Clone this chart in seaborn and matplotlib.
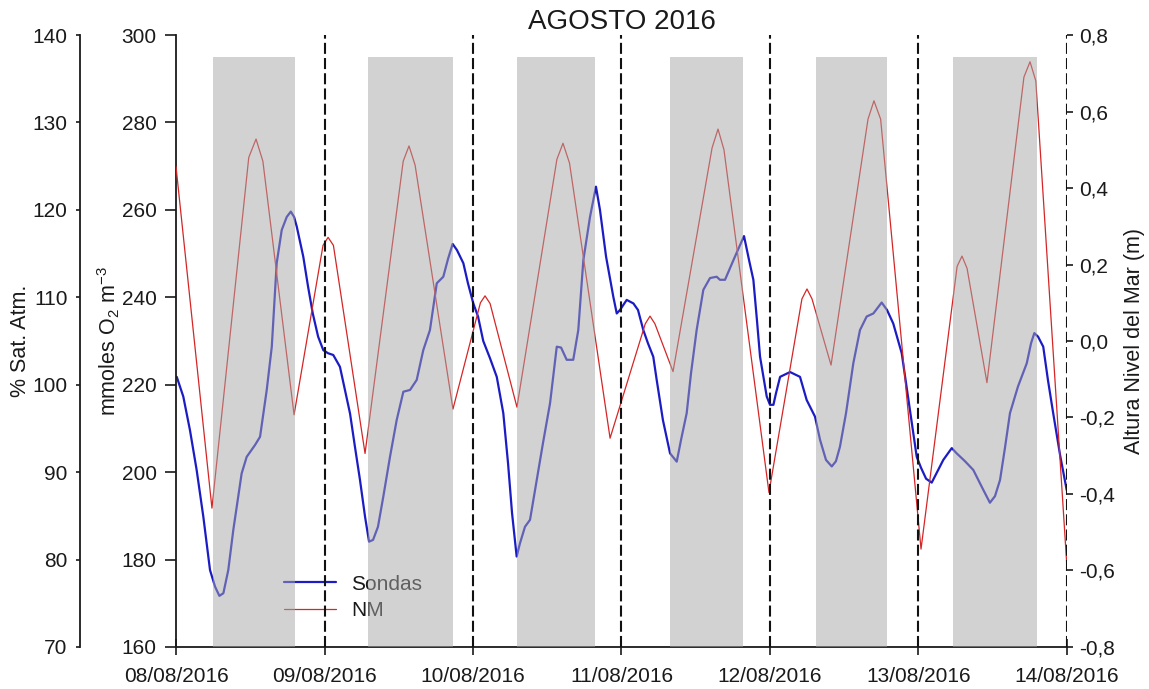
import matplotlib
matplotlib.use("Agg")
import matplotlib.pyplot as plt
import seaborn as sns

# Time axis: days elapsed since 08/08/2016 00:00
day_ticks = [0, 1, 2, 3, 4, 5, 6]
day_labels = ["08/08/2016", "09/08/2016", "10/08/2016", "11/08/2016",
              "12/08/2016", "13/08/2016", "14/08/2016"]

# Dissolved oxygen from the probes (mmoles O2 m-3)
sondas_t = [0.005, 0.049, 0.094, 0.139, 0.184, 0.229, 0.263, 0.292, 0.319, 0.352,
            0.386, 0.442, 0.476, 0.532, 0.566, 0.611, 0.645, 0.678, 0.712, 0.746,
            0.773, 0.795, 0.813, 0.857, 0.889, 0.921, 0.957, 0.992, 1.024, 1.059,
            1.104, 1.138, 1.172, 1.205, 1.239, 1.273, 1.300, 1.327, 1.360, 1.396,
            1.441, 1.486, 1.531, 1.576, 1.621, 1.665, 1.710, 1.756, 1.800, 1.832,
            1.863, 1.892, 1.935, 1.966, 2.002, 2.034, 2.069, 2.114, 2.160, 2.204,
            2.236, 2.263, 2.294, 2.316, 2.350, 2.384, 2.429, 2.471, 2.519, 2.564,
            2.593, 2.631, 2.675, 2.709, 2.743, 2.788, 2.828, 2.855, 2.896, 2.945,
            2.968, 2.990, 3.035, 3.080, 3.111, 3.147, 3.178, 3.214, 3.237, 3.279,
            3.327, 3.372, 3.401, 3.439, 3.468, 3.506, 3.551, 3.596, 3.641, 3.663,
            3.697, 3.764, 3.825, 3.859, 3.888, 3.912, 3.933, 3.978, 4.000, 4.023,
            4.040, 4.068, 4.135, 4.202, 4.247, 4.303, 4.337, 4.377, 4.416, 4.444,
            4.471, 4.512, 4.561, 4.606, 4.651, 4.696, 4.752, 4.788, 4.830, 4.887,
            4.943, 4.988, 5.017, 5.051, 5.089, 5.125, 5.167, 5.224, 5.257, 5.313,
            5.369, 5.437, 5.481, 5.515, 5.549, 5.582, 5.616, 5.670, 5.729, 5.758,
            5.780, 5.805, 5.840, 5.872, 5.907, 5.953, 5.998]
sondas_o2 = [221.8, 217.3, 209.6, 200.5, 189.8, 177.6, 173.8, 171.7, 172.3, 177.6,
             186.8, 199.7, 203.5, 206.2, 208.1, 218.8, 228.7, 247.8, 255.4, 258.4,
             259.6, 258.4, 256.2, 249.3, 242.5, 236.3, 231.0, 227.9, 227.2, 226.8,
             224.1, 218.8, 213.4, 205.8, 198.2, 189.8, 184.1, 184.5, 187.5, 194.4,
             203.5, 211.9, 218.4, 218.8, 221.1, 227.9, 232.5, 243.2, 244.7, 248.8,
             252.2, 250.8, 247.8, 243.2, 238.6, 235.6, 230.0, 226.1, 221.8, 213.5,
             202.0, 190.6, 180.7, 183.7, 187.5, 189.1, 198.2, 206.6, 215.8, 228.7,
             228.5, 225.7, 225.7, 232.5, 248.5, 258.4, 265.3, 260.0, 249.3, 240.1,
             236.3, 237.1, 239.4, 238.6, 237.1, 232.5, 229.5, 226.4, 221.1, 211.9,
             204.3, 202.4, 207.4, 213.5, 222.6, 232.5, 241.7, 244.4, 244.7, 244.0,
             244.0, 249.3, 254.0, 248.5, 244.0, 234.8, 226.4, 217.3, 215.4, 215.4,
             218.0, 221.8, 222.9, 221.8, 216.5, 212.7, 207.4, 202.8, 201.3, 202.5,
             205.8, 213.5, 224.9, 232.5, 235.6, 236.3, 238.8, 237.1, 234.0, 227.2,
             214.0, 203.5, 201.0, 198.5, 197.6, 200.0, 202.8, 205.5, 204.3, 202.5,
             200.5, 195.9, 193.0, 194.5, 198.2, 205.5, 213.5, 219.6, 224.9, 229.5,
             231.8, 231.0, 228.7, 221.0, 213.5, 204.0, 195.9]

# Sea level height (m)
nm_t = [0.000, 0.242, 0.490, 0.539, 0.585, 0.795, 0.990, 1.024, 1.060, 1.273,
        1.530, 1.569, 1.610, 1.865, 2.050, 2.081, 2.115, 2.296, 2.565, 2.606,
        2.650, 2.923, 3.160, 3.192, 3.225, 3.347, 3.610, 3.650, 3.690, 3.993,
        4.215, 4.249, 4.283, 4.411, 4.660, 4.700, 4.745, 5.017, 5.260, 5.293,
        5.327, 5.461, 5.710, 5.751, 5.790, 6.000]
nm_h = [0.456, -0.437, 0.480, 0.528, 0.470, -0.193, 0.250, 0.271, 0.250, -0.294,
        0.470, 0.510, 0.460, -0.178, 0.100, 0.118, 0.098, -0.173, 0.475, 0.517,
        0.465, -0.254, 0.045, 0.065, 0.045, -0.080, 0.505, 0.554, 0.500, -0.396,
        0.110, 0.136, 0.110, -0.063, 0.580, 0.628, 0.580, -0.544, 0.195, 0.222,
        0.190, -0.109, 0.690, 0.730, 0.680, -0.593]

# Shaded periods (days)
light_start = [0.247, 1.295, 2.294, 3.327, 4.310, 5.234]
light_end = [0.800, 1.867, 2.822, 3.816, 4.790, 5.796]

o2_ticks = [160, 180, 200, 220, 240, 260, 280, 300]
sat_ticks = [70, 80, 90, 100, 110, 120, 130, 140]
nm_ticks = [-0.8, -0.6, -0.4, -0.2, 0.0, 0.2, 0.4, 0.6, 0.8]
nm_tick_labels = ["-0,8", "-0,6", "-0,4", "-0,2", "0,0", "0,2", "0,4", "0,6", "0,8"]

sns.set_style("ticks")
plt.rcParams["font.family"] = ["Liberation Sans", "DejaVu Sans"]
plt.rcParams["mathtext.fontset"] = "custom"
plt.rcParams["mathtext.rm"] = "Liberation Sans"
plt.rcParams["mathtext.it"] = "Liberation Sans:italic"
plt.rcParams["mathtext.bf"] = "Liberation Sans:bold"

FS = 15
LFS = 15.5
TXT = "#1a1a1a"

fig = plt.figure(figsize=(11.49, 6.89), dpi=100)
ax = fig.add_axes([0.15318, 0.06096, 0.77545, 0.88824])

sns.lineplot(x=sondas_t, y=sondas_o2, ax=ax, color="#1c1cc4", linewidth=1.6,
             estimator=None, sort=False, zorder=2)
ax.set_xlim(0, 6)
ax.set_ylim(160, 300)
ax.set_yticks(o2_ticks)
ax.set_xticks(day_ticks)
ax.set_xticklabels(day_labels)
ax.set_ylabel(r"mmoles O$_2$ m$^{-3}$", fontsize=LFS, color=TXT, labelpad=-0.5)
ax.set_xlabel("")
ax.tick_params(axis="y", direction="out", length=8, width=1.2, pad=6,
               labelsize=FS, colors=TXT)
ax.tick_params(axis="x", direction="inout", length=11, width=1.2, pad=9,
               labelsize=FS, colors=TXT)
for s in ("top", "right"):
    ax.spines[s].set_visible(False)
for s in ("left", "bottom"):
    ax.spines[s].set_linewidth(1.3)
    ax.spines[s].set_color(TXT)
ax.set_title("AGOSTO 2016", fontsize=20, color=TXT, pad=3)

# Sea level on the right axis
ax2 = ax.twinx()
sns.lineplot(x=nm_t, y=nm_h, ax=ax2, color="#d42626", linewidth=0.9,
             estimator=None, sort=False, zorder=2)
ax2.set_ylim(-0.8, 0.8)
ax2.set_yticks(nm_ticks)
ax2.set_yticklabels(nm_tick_labels)
ax2.set_ylabel("Altura Nivel del Mar (m)", fontsize=LFS, color=TXT, labelpad=7)
ax2.tick_params(axis="y", direction="out", length=4.5, width=1.2, pad=4,
                labelsize=FS, colors=TXT)
for s in ("top", "left", "bottom", "right"):
    ax2.spines[s].set_visible(False)

# Day separators
for d in day_ticks[1:]:
    ax2.axvline(d, color="#111111", linewidth=1.5, linestyle=(0, (5.3, 2.0)),
                zorder=6)

# Shaded bands overlaid on the series
for a, b in zip(light_start, light_end):
    ax2.axvspan(a, b, ymin=0, ymax=0.964, facecolor="#a7a7a7", alpha=0.5,
                linewidth=0, zorder=5)

# Legend (drawn below the shaded bands)
h1 = ax.lines[0]
h2 = ax2.lines[0]
ax.legend([h1, h2], ["Sondas", "NM"], loc="upper left",
          bbox_to_anchor=(0.1212, 0.118), frameon=False, fontsize=FS,
          handlelength=2.5, handletextpad=0.72, labelspacing=0.37,
          borderpad=0, borderaxespad=0, labelcolor=TXT)

# Saturation axis further left
ax3 = ax.twinx()
ax3.set_ylim(70, 140)
ax3.set_yticks(sat_ticks)
for s in ("top", "right", "bottom"):
    ax3.spines[s].set_visible(False)
ax3.spines["left"].set_visible(True)
ax3.spines["left"].set_position(("outward", 69))
ax3.spines["left"].set_linewidth(1.3)
ax3.spines["left"].set_color(TXT)
ax3.yaxis.set_ticks_position("left")
ax3.yaxis.set_label_position("left")
ax3.tick_params(axis="y", direction="out", length=3, width=1.2, pad=6,
                labelsize=FS, colors=TXT)
ax3.set_ylabel("% Sat. Atm.", fontsize=LFS, color=TXT, labelpad=1)

fig.savefig("out.png", dpi=100)
